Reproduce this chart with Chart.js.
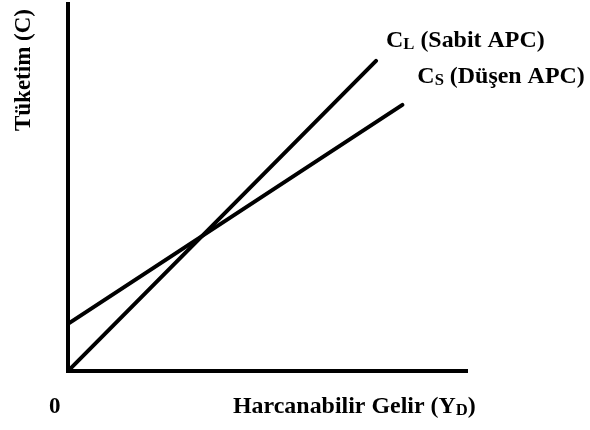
<!DOCTYPE html>
<html>
<head>
<meta charset="utf-8">
<script src="https://cdn.jsdelivr.net/npm/chart.js@4/dist/chart.umd.min.js"></script>
<style>
  html, body { margin: 0; padding: 0; background: #fff; }
  #wrap { width: 590px; height: 430px; position: relative; }
</style>
</head>
<body>
<div id="wrap"><canvas id="c" width="590" height="430"></canvas></div>
<script>
// Data (income, consumption) in arbitrary units
const incomeCL = [0, 7.72];
const consumptionCL = [0, 7.75];
const incomeCS = [0, 8.38];
const consumptionCS = [1.18, 6.65];
const axisMaxX = 10;
const axisMaxY = 9.17;
// Labels
const labelCL = { main: "C", sub: "L", rest: " (Sabit APC)" };
const labelCS = { main: "C", sub: "S", rest: " (Düşen APC)" };
const xTitle = { main: "Harcanabilir Gelir (Y", sub: "D", rest: ")" };
const yTitle = "Tüketim (C)";
const originLabel = "0";

const toPts = (xs, ys) => xs.map((x, i) => ({ x: x, y: ys[i] }));

const FONT = "bold 23px 'Liberation Serif', 'Times New Roman', serif";
const SUBFONT = "bold 16px 'Liberation Serif', 'Times New Roman', serif";
const STRETCH = 1.04;

function drawSubText(ctx, x, y, parts) {
  ctx.save();
  ctx.translate(x, y);
  ctx.scale(STRETCH, 1);
  ctx.textAlign = 'left';
  ctx.textBaseline = 'alphabetic';
  ctx.font = FONT;
  ctx.fillText(parts.main, 0, 0);
  let w = ctx.measureText(parts.main).width;
  ctx.font = SUBFONT;
  ctx.fillText(parts.sub, w, 2);
  w += ctx.measureText(parts.sub).width;
  ctx.font = FONT;
  ctx.fillText(parts.rest, w, 0);
  ctx.restore();
}

const textPlugin = {
  id: 'texts',
  afterDraw(chart) {
    const ctx = chart.ctx;
    const xs = chart.scales.x, ys = chart.scales.y;
    ctx.save();
    ctx.fillStyle = '#000';
    const clEnd = { x: xs.getPixelForValue(incomeCL[1]), y: ys.getPixelForValue(consumptionCL[1]) };
    const csEnd = { x: xs.getPixelForValue(incomeCS[1]), y: ys.getPixelForValue(consumptionCS[1]) };
    drawSubText(ctx, clEnd.x + 10, clEnd.y - 14, labelCL);
    drawSubText(ctx, csEnd.x + 15, csEnd.y - 22, labelCS);
    drawSubText(ctx, 233, 413, xTitle);
    ctx.font = FONT;
    ctx.textAlign = 'left';
    ctx.textBaseline = 'alphabetic';
    ctx.fillText(originLabel, 49, 413);
    ctx.translate(30, 70);
    ctx.rotate(-Math.PI / 2);
    ctx.textAlign = 'center';
    ctx.fillText(yTitle, 0, 0);
    ctx.restore();
  }
};

new Chart(document.getElementById('c'), {
  type: 'scatter',
  data: {
    datasets: [
      { data: toPts(incomeCL, consumptionCL), showLine: true, borderColor: '#000', borderWidth: 4, pointRadius: 0, borderCapStyle: 'round' },
      { data: toPts(incomeCS, consumptionCS), showLine: true, borderColor: '#000', borderWidth: 4, pointRadius: 0, borderCapStyle: 'round' }
    ]
  },
  options: {
    responsive: false,
    animation: false,
    events: [],
    layout: { padding: { left: 68, right: 123, top: 4, bottom: 59 } },
    plugins: { legend: { display: false }, tooltip: { enabled: false } },
    scales: {
      x: {
        type: 'linear', min: 0, max: axisMaxX,
        grid: { display: false, drawTicks: false },
        ticks: { display: false },
        border: { display: true, color: '#000', width: 4 }
      },
      y: {
        type: 'linear', min: 0, max: axisMaxY,
        grid: { display: false, drawTicks: false },
        ticks: { display: false },
        border: { display: true, color: '#000', width: 4 }
      }
    }
  },
  plugins: [textPlugin]
});
</script>
</body>
</html>
